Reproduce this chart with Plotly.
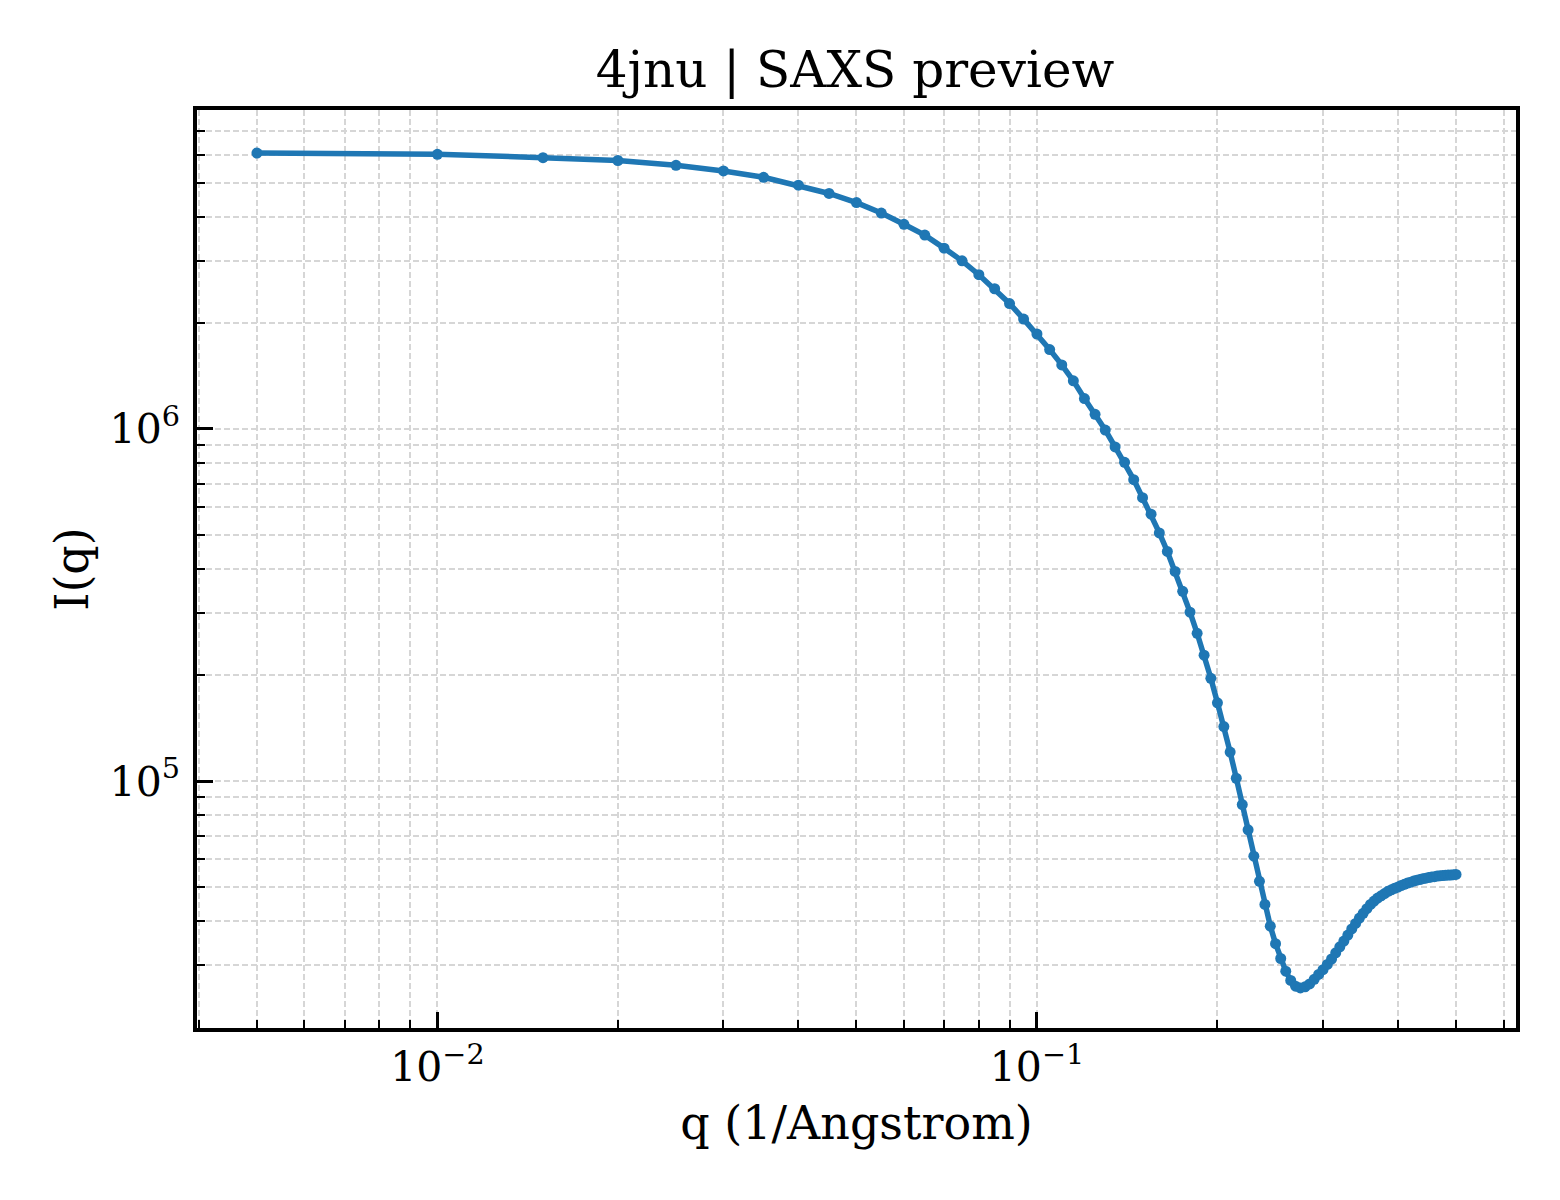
import plotly.graph_objects as go

# ---- data ----
q_values = [
    0.005, 0.010, 0.015, 0.020, 0.025, 0.030, 0.035, 0.040, 0.045, 0.050,
    0.055, 0.060, 0.065, 0.070, 0.075, 0.080, 0.085, 0.090, 0.095, 0.100,
    0.105, 0.110, 0.115, 0.120, 0.125, 0.130, 0.135, 0.140, 0.145, 0.150,
    0.155, 0.160, 0.165, 0.170, 0.175, 0.180, 0.185, 0.190, 0.195, 0.200,
    0.205, 0.210, 0.215, 0.220, 0.225, 0.230, 0.235, 0.240, 0.245, 0.250,
    0.255, 0.260, 0.265, 0.270, 0.275, 0.280, 0.285, 0.290, 0.295, 0.300,
    0.305, 0.310, 0.315, 0.320, 0.325, 0.330, 0.335, 0.340, 0.345, 0.350,
    0.355, 0.360, 0.365, 0.370, 0.375, 0.380, 0.385, 0.390, 0.395, 0.400,
    0.405, 0.410, 0.415, 0.420, 0.425, 0.430, 0.435, 0.440, 0.445, 0.450,
    0.455, 0.460, 0.465, 0.470, 0.475, 0.480, 0.485, 0.490, 0.495, 0.500,
]

intensity = [
    6.07e6, 6.02e6, 5.89e6, 5.78e6, 5.60e6, 5.40e6, 5.18e6, 4.92e6, 4.66e6, 4.39e6,
    4.10e6, 3.81e6, 3.55e6, 3.26e6, 3.00e6, 2.74e6, 2.50e6, 2.27e6, 2.05e6, 1.86e6,
    1.68e6, 1.52e6, 1.37e6, 1.22e6, 1.10e6, 9.93e5, 8.89e5, 8.04e5, 7.18e5, 6.38e5,
    5.73e5, 5.07e5, 4.49e5, 3.94e5, 3.46e5, 3.02e5, 2.63e5, 2.28e5, 1.96e5, 1.67e5,
    1.43e5, 1.21e5, 1.02e5, 8.59e4, 7.28e4, 6.13e4, 5.20e4, 4.47e4, 3.88e4, 3.46e4,
    3.14e4, 2.89e4, 2.72e4, 2.62e4, 2.59e4, 2.61e4, 2.66e4, 2.74e4, 2.83e4, 2.92e4,
    3.02e4, 3.13e4, 3.26e4, 3.39e4, 3.52e4, 3.66e4, 3.81e4, 3.95e4, 4.09e4, 4.22e4,
    4.35e4, 4.47e4, 4.57e4, 4.66e4, 4.73e4, 4.80e4, 4.87e4, 4.92e4, 4.97e4, 5.01e4,
    5.06e4, 5.10e4, 5.14e4, 5.17e4, 5.21e4, 5.24e4, 5.26e4, 5.29e4, 5.31e4, 5.33e4,
    5.35e4, 5.36e4, 5.38e4, 5.39e4, 5.40e4, 5.41e4, 5.42e4, 5.42e4, 5.43e4, 5.44e4,
]

title_text = "4jnu | SAXS preview"
x_label = "q (1/Angstrom)"
y_label = "I(q)"
x_tickvals = [0.01, 0.1]
x_ticktext = ["10<sup>\u22122</sup>", "10<sup>\u22121</sup>"]
y_tickvals = [1e5, 1e6]
y_ticktext = ["10<sup>5</sup>", "10<sup>6</sup>"]

FONT = "DejaVu Serif"
LINE_COLOR = "#1f77b4"
GRID_COLOR = "#d6d6d6"

fig = go.Figure()
fig.add_trace(
    go.Scatter(
        x=q_values,
        y=intensity,
        mode="lines+markers",
        line=dict(color=LINE_COLOR, width=5.5),
        marker=dict(color=LINE_COLOR, size=11),
        showlegend=False,
    )
)

common_axis = dict(
    type="log",
    showline=True,
    linecolor="black",
    linewidth=3.5,
    mirror=True,
    ticks="inside",
    ticklen=16,
    tickwidth=3,
    tickcolor="black",
    showgrid=True,
    gridcolor=GRID_COLOR,
    gridwidth=1.5,
    griddash="6px,3px",
    zeroline=False,
    tickfont=dict(family=FONT, size=41, color="black"),
    tickmode="array",
    minor=dict(
        ticks="inside",
        ticklen=8,
        tickwidth=2,
        tickcolor="black",
        dtick="D1",
        showgrid=True,
        gridcolor=GRID_COLOR,
        gridwidth=1.5,
        griddash="6px,3px",
    ),
    automargin=False,
)

fig.update_xaxes(
    **common_axis,
    range=[-2.401, -0.201],
    tickvals=x_tickvals,
    ticktext=x_ticktext,
    ticklabelstandoff=0,
    title=dict(text=x_label, font=dict(family=FONT, size=46, color="black"), standoff=18),
)
fig.update_yaxes(
    **common_axis,
    range=[4.2997, 6.9053],
    tickvals=y_tickvals,
    ticktext=y_ticktext,
    ticklabelstandoff=5,
    title=dict(text=y_label, font=dict(family=FONT, size=46, color="black"), standoff=8),
)

# the page body has an 8px margin, so the figure is made 8px smaller and shifted
fig.update_layout(
    width=1552,
    height=1192,
    margin=dict(l=189, r=44, t=102, b=172),
    paper_bgcolor="white",
    plot_bgcolor="white",
    font=dict(family=FONT, color="black"),
    title=dict(
        text=title_text,
        font=dict(family=FONT, size=50, color="black"),
        x=847 / 1552,
        xanchor="center",
        xref="container",
        y=1 - 61 / 1192,
        yanchor="middle",
        yref="container",
    ),
)

fig.write_html("out.html")
